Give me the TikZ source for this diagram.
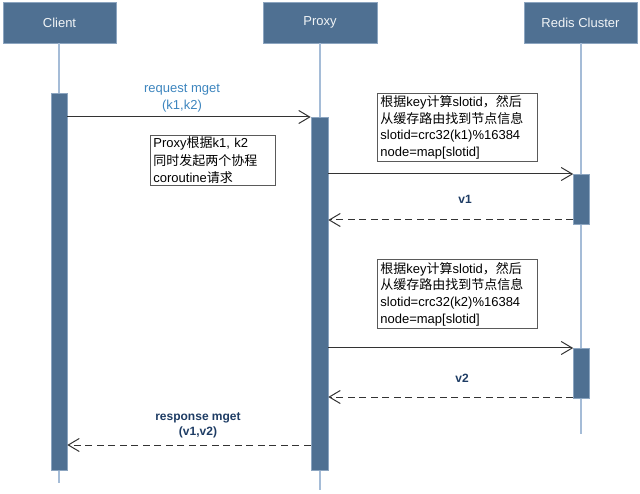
\documentclass[tikz,border=0pt]{standalone}
\usepackage{fontspec}
\setmainfont{Liberation Sans}
\newfontfamily\cjk{Noto Sans CJK SC}
\usetikzlibrary{arrows.meta}
\definecolor{hdr}{RGB}{79,112,146}
\definecolor{hdrline}{RGB}{140,165,192}
\definecolor{lifec}{RGB}{165,188,215}
\definecolor{msgc}{RGB}{51,51,51}
\definecolor{reqc}{RGB}{61,133,190}
\definecolor{retc}{RGB}{30,60,100}
\definecolor{notec}{RGB}{90,90,90}
\begin{document}
\begin{tikzpicture}[x=1pt,y=-1pt,
  head/.style={draw=hdrline, fill=hdr, line width=0.8pt, text=white!92!hdr,
    font=\fontsize{13}{15}\selectfont, inner sep=0pt, minimum height=41pt},
  life/.style={draw=lifec, line width=1.3pt},
  actbar/.style={draw=hdrline, fill=hdr, line width=0.6pt, minimum width=16pt, inner sep=0pt, anchor=north},
  msg/.style={draw=msgc, line width=1pt, -{Straight Barb[length=11pt,width=13pt,line width=1pt]}},
  ret/.style={msg, dash pattern=on 7pt off 4.5pt},
  note/.style={draw=notec, fill=white, line width=0.8pt, anchor=north west, align=left,
    inner xsep=3pt, inner ysep=1pt},
  reqlbl/.style={text=reqc, align=center, font=\fontsize{13}{17}\selectfont, inner sep=0pt},
  retlbl/.style={text=retc, align=center, font=\bfseries\fontsize{12}{15}\selectfont, inner sep=0pt}
]
\useasboundingbox (0,0) rectangle (640,494);

% headers
\node[head, minimum width=113pt] (client) at (59.5,22.5) {Client};
\node[head, minimum width=114pt] (proxy) at (320,22.5) {Proxy};
\node[head, minimum width=113pt] (redis) at (580.5,22.5) {Redis Cluster};

% lifeline ends
\coordinate (cend) at (59,483);
\coordinate (pend) at (320,490);
\coordinate (rend) at (581,434);
\draw[life] (client.south -| cend) -- (cend);
\draw[life] (proxy.south -| pend) -- (pend);
\draw[life] (redis.south -| rend) -- (rend);

% activation bars
\node[actbar, minimum height=377pt] (cbar) at (59,93) {};
\node[actbar, minimum width=17pt, minimum height=353pt] (pbar) at (319.5,117) {};
\node[actbar, minimum height=50pt] (rbar1) at (581.5,174) {};
\node[actbar, minimum height=50pt] (rbar2) at (581.5,348) {};

% message levels
\coordinate (y1) at (0,117);
\coordinate (y2) at (0,174);
\coordinate (y3) at (0,220);
\coordinate (y4) at (0,348);
\coordinate (y5) at (0,397);
\coordinate (y6) at (0,445);

\draw[msg] (cbar.east |- y1) -- (pbar.west |- y1);
\draw[msg] (pbar.east |- y2) -- (rbar1.west |- y2);
\draw[ret] (rbar1.west |- y3) -- (pbar.east |- y3);
\draw[msg] (pbar.east |- y4) -- (rbar2.west |- y4);
\draw[ret] (rbar2.west |- y5) -- (pbar.east |- y5);
\draw[ret] (pbar.west |- y6) -- (cbar.east |- y6);

% labels
\node[reqlbl] (req) at (182,98.5) {request mget\\(k1,k2)};
\node[retlbl] (v1) at (465,199) {v1};
\node[retlbl] (v2) at (462,378) {v2};
\node[retlbl] (resp) at (198,425.5) {response mget\\(v1,v2)};

% notes
\node[note, minimum width=125pt, minimum height=50pt, text width=119pt,
  font=\fontsize{13}{17.5}\selectfont] (pnote) at (150,135)
  {Proxy{\cjk 根据}k1, k2\\{\cjk 同时发起两个协程}\\coroutine{\cjk 请求}};
\node[note, minimum width=160pt, minimum height=68pt, text width=154pt,
  font=\fontsize{13}{16.7}\selectfont] (rnote1) at (377,93)
  {{\cjk 根据}key{\cjk 计算}slotid{\cjk ，然后}\\{\cjk 从缓存路由找到节点信息}\\slotid=crc32(k1)\%16384\\node=map[slotid]};
\node[note, minimum width=160pt, minimum height=69pt, text width=154pt,
  font=\fontsize{13}{16.7}\selectfont] (rnote2) at (377,259)
  {{\cjk 根据}key{\cjk 计算}slotid{\cjk ，然后}\\{\cjk 从缓存路由找到节点信息}\\slotid=crc32(k2)\%16384\\node=map[slotid]};
\end{tikzpicture}
\end{document}
